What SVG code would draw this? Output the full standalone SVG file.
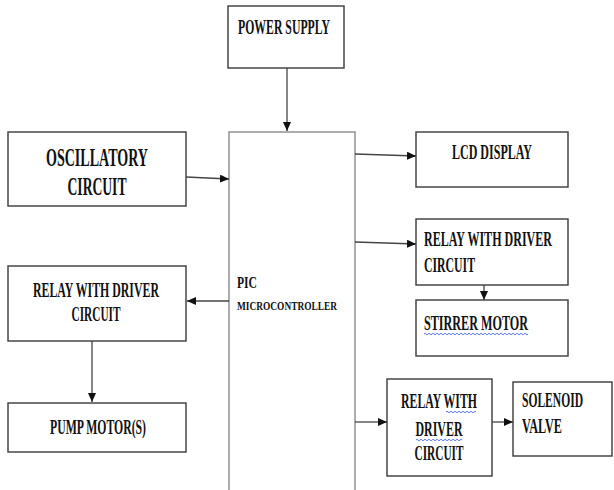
<svg xmlns="http://www.w3.org/2000/svg" width="614" height="490" viewBox="0 0 614 490">
<style>
.box{fill:#fff;stroke:#3a3a3a;stroke-width:1.4}
.pic{fill:#fff;stroke:#8a8a8a;stroke-width:1.4}
.t{font-family:"Liberation Serif","DejaVu Serif",serif;font-weight:bold;fill:#111}
.c{stroke:#444;stroke-width:1.3;fill:none}
.w{stroke:#3355dd;stroke-width:0.8;fill:none}
</style>
<defs>
<marker id="ah" markerUnits="userSpaceOnUse" markerWidth="10" markerHeight="10" refX="9" refY="4" orient="auto">
<path d="M0,0 L9,4 L0,8 Z" fill="#111"/>
</marker>
</defs>
<rect width="614" height="490" fill="#fff"/>
<g id="power">
<rect class="box" x="228" y="6" width="116" height="62"/>
<text class="t" x="238" y="34" font-size="20" textLength="92" lengthAdjust="spacingAndGlyphs">POWER SUPPLY</text>
</g>
<g id="pic">
<rect class="pic" x="229" y="132" width="126" height="370"/>
<text class="t" x="237" y="288" font-size="16" textLength="20" lengthAdjust="spacingAndGlyphs">PIC</text>
<text class="t" x="237" y="310" font-size="12" textLength="100" lengthAdjust="spacingAndGlyphs">MICROCONTROLLER</text>
</g>
<g id="osc">
<rect class="box" x="8" y="132" width="178" height="74"/>
<text class="t" x="97" y="166" font-size="25" text-anchor="middle" textLength="102" lengthAdjust="spacingAndGlyphs">OSCILLATORY</text>
<text class="t" x="97" y="195" font-size="25" text-anchor="middle" textLength="59" lengthAdjust="spacingAndGlyphs">CIRCUIT</text>
</g>
<g id="relayL">
<rect class="box" x="8" y="266" width="178" height="75"/>
<text class="t" x="96" y="297" font-size="21" text-anchor="middle" textLength="126" lengthAdjust="spacingAndGlyphs">RELAY WITH DRIVER</text>
<text class="t" x="96" y="321" font-size="21" text-anchor="middle" textLength="49" lengthAdjust="spacingAndGlyphs">CIRCUIT</text>
</g>
<g id="pump">
<rect class="box" x="8" y="403" width="178" height="49"/>
<text class="t" x="98" y="434" font-size="22" text-anchor="middle" textLength="96" lengthAdjust="spacingAndGlyphs">PUMP MOTOR(S)</text>
</g>
<g id="lcd">
<rect class="box" x="416" y="132" width="152" height="55"/>
<text class="t" x="492" y="159" font-size="20" text-anchor="middle" textLength="80" lengthAdjust="spacingAndGlyphs">LCD DISPLAY</text>
</g>
<g id="relayR1">
<rect class="box" x="416" y="219" width="152" height="66"/>
<text class="t" x="424" y="246" font-size="20" textLength="128" lengthAdjust="spacingAndGlyphs">RELAY WITH DRIVER</text>
<text class="t" x="424" y="272" font-size="20" textLength="51" lengthAdjust="spacingAndGlyphs">CIRCUIT</text>
</g>
<g id="stirrer">
<rect class="box" x="416" y="300" width="152" height="56"/>
<text class="t" x="424" y="330" font-size="20" textLength="104" lengthAdjust="spacingAndGlyphs">STIRRER  MOTOR</text>
<path class="w" d="M424,334 q1,-1.5 2,0 t2,0 t2,0 t2,0 t2,0 t2,0 t2,0 t2,0 t2,0 t2,0 t2,0 t2,0 t2,0 t2,0 t2,0 t2,0 t2,0 t2,0 t2,0 t2,0 t2,0 t2,0 t2,0 t2,0 t2,0 t2,0 t2,0 t2,0 t2,0 t2,0 t2,0 t2,0 t2,0 t2,0 t2,0 t2,0 t2,0 t2,0 t2,0 t2,0 t2,0 t2,0 t2,0 t2,0 t2,0 t2,0 t2,0 t2,0 t2,0 t2,0 t2,0 t2,0"/>
</g>
<g id="relayR2">
<rect class="box" x="387" y="379" width="105" height="97"/>
<text class="t" x="439" y="408" font-size="20" text-anchor="middle" textLength="76" lengthAdjust="spacingAndGlyphs">RELAY WITH</text>
<text class="t" x="439" y="436" font-size="20" text-anchor="middle" textLength="47" lengthAdjust="spacingAndGlyphs">DRIVER</text>
<text class="t" x="439" y="460" font-size="20" text-anchor="middle" textLength="49" lengthAdjust="spacingAndGlyphs">CIRCUIT</text>
<path class="w" d="M446,412 q1,-1.5 2,0 t2,0 t2,0 t2,0 t2,0 t2,0 t2,0 t2,0 t2,0 t2,0 t2,0 t2,0 t2,0 t2,0 t2,0"/>
<path class="w" d="M416,440 q1,-1.5 2,0 t2,0 t2,0 t2,0 t2,0 t2,0 t2,0 t2,0 t2,0 t2,0 t2,0 t2,0 t2,0 t2,0 t2,0 t2,0 t2,0 t2,0 t2,0 t2,0 t2,0 t2,0 t2,0"/>
</g>
<g id="solenoid">
<rect class="box" x="513" y="382" width="99" height="74"/>
<text class="t" x="522" y="407" font-size="20" textLength="61" lengthAdjust="spacingAndGlyphs">SOLENOID</text>
<text class="t" x="522" y="433" font-size="20" textLength="40" lengthAdjust="spacingAndGlyphs">VALVE</text>
</g>
<g id="connectors">
<line class="c" x1="287" y1="68" x2="287" y2="131" marker-end="url(#ah)"/>
<line class="c" x1="186" y1="177" x2="229" y2="179" marker-end="url(#ah)"/>
<line class="c" x1="229" y1="301" x2="187" y2="301" marker-end="url(#ah)"/>
<line class="c" x1="92" y1="341" x2="92" y2="402" marker-end="url(#ah)"/>
<line class="c" x1="355" y1="154" x2="416" y2="156" marker-end="url(#ah)"/>
<line class="c" x1="355" y1="242" x2="416" y2="244" marker-end="url(#ah)"/>
<line class="c" x1="484" y1="285" x2="484" y2="300" marker-end="url(#ah)"/>
<line class="c" x1="355" y1="422" x2="387" y2="422" marker-end="url(#ah)"/>
<line class="c" x1="492" y1="422" x2="513" y2="422" marker-end="url(#ah)"/>
</g>
</svg>
